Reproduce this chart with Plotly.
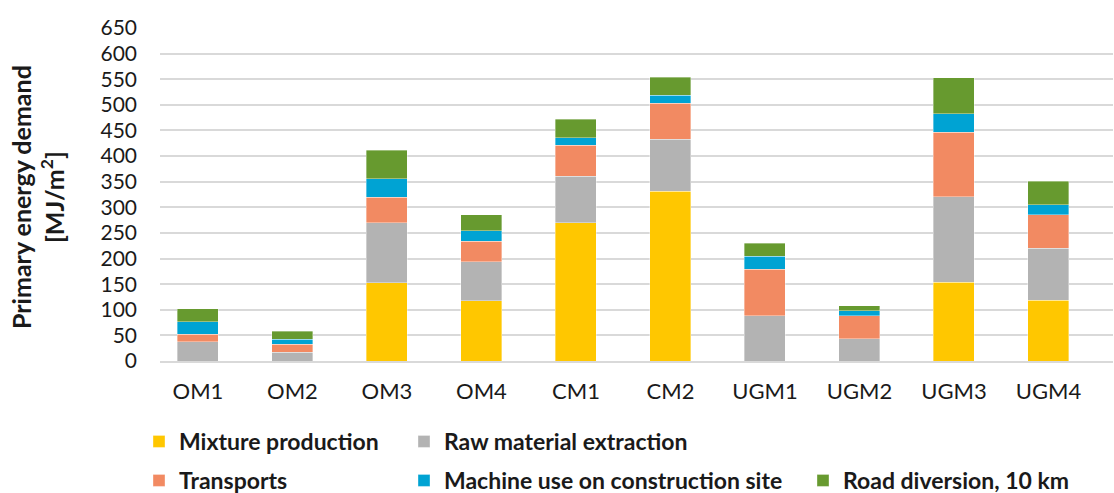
import plotly.graph_objects as go

categories = ["OM1", "OM2", "OM3", "OM4", "CM1", "CM2", "UGM1", "UGM2", "UGM3", "UGM4"]
mixture_production = [0, 0, 153, 118, 270, 331, 0, 0, 154, 119]
raw_material_extraction = [38, 17.5, 117, 76, 91, 102, 88, 43, 167, 101]
transports = [14, 15, 50, 40, 60, 70, 91, 45, 126, 65]
machine_use = [25, 10, 36, 20, 15, 16, 25, 10, 36, 20]
road_diversion = [25, 15.5, 55, 31, 36, 35, 26, 10, 70, 46]
y_ticks = list(range(0, 651, 50))

series_names = ["Mixture production", "Raw material extraction", "Transports",
                "Machine use on construction site", "Road diversion, 10 km"]
series_values = [mixture_production, raw_material_extraction, transports, machine_use, road_diversion]
series_colors = ["#FFC700", "#B3B3B3", "#F28A62", "#00A3D3", "#679A2F"]
# legend item placement (left x, top y in pixels): two rows like the original
legend_pos = [(139, 420), (404, 420), (139, 459), (404, 459), (803, 459)]

font_family = "Lato, Open Sans, sans-serif"
text_color = "#1a1a1a"

fig = go.Figure()
legends = {}
for i, (name, vals, color) in enumerate(zip(series_names, series_values, series_colors)):
    lg = "legend" if i == 0 else f"legend{i + 1}"
    fig.add_trace(go.Bar(
        x=categories, y=vals, name=name,
        marker=dict(color=color, line=dict(color="rgba(255,255,255,0.6)", width=0.6)),
        width=0.434, legend=lg,
    ))
    px, py = legend_pos[i]
    legends[lg] = dict(
        orientation="v", xref="container", yref="container", xanchor="left", yanchor="top",
        x=px / 1114, y=1 - py / 493,
        font=dict(family=font_family, size=23, color=text_color, weight="bold"),
        bgcolor="rgba(0,0,0,0)", itemwidth=30,
        itemclick=False, itemdoubleclick=False,
    )

fig.update_layout(
    width=1114, height=493,
    margin=dict(l=160, r=1, t=28, b=132, autoexpand=False),
    paper_bgcolor="white", plot_bgcolor="white",
    barmode="stack",
    font=dict(family=font_family, color=text_color),
    showlegend=True,
    **legends,
    xaxis=dict(
        type="category", range=[-0.402, 9.683],
        tickfont=dict(family=font_family, size=22, color=text_color),
        showgrid=False, showline=True, linecolor="#D9D9D9", linewidth=1.5,
        ticks="", ticklabelstandoff=10,
    ),
    yaxis=dict(
        range=[0, 650], tickvals=y_ticks,
        tickfont=dict(family=font_family, size=21, color=text_color),
        showgrid=True, gridcolor="#D9D9D9", gridwidth=1.5,
        zeroline=False, showline=False, ticks="", ticklabelstandoff=22,
    ),
    annotations=[dict(
        text="Primary energy demand<br>[MJ/m<sup>2</sup>]",
        xref="paper", yref="paper",
        x=(37 - 160) / 953, y=(361 - 197) / 333,
        xanchor="center", yanchor="middle", textangle=-90, showarrow=False,
        font=dict(family=font_family, size=25, color=text_color, weight="bold"),
    )],
)

fig.write_html("out.html")
